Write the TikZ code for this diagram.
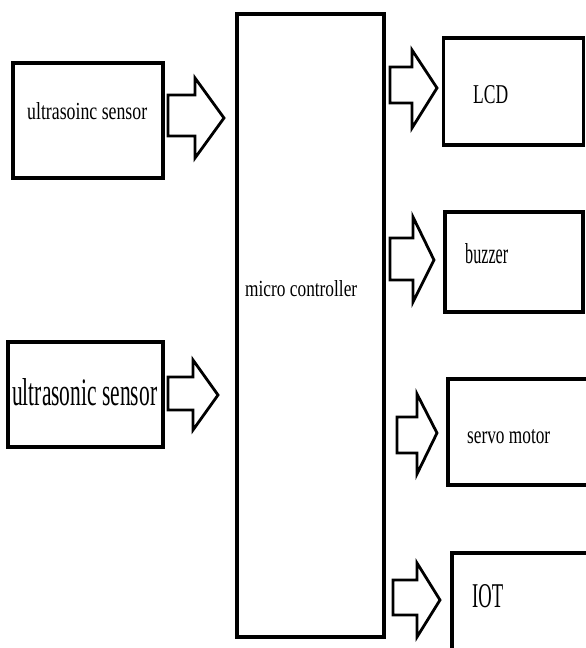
\documentclass[tikz,border=0pt]{standalone}
\usepackage{graphicx}
\usepackage{fontspec}
\setmainfont{Liberation Serif}
\tikzset{
  blk/.style={draw=black, line width=3.6pt, fill=white, inner sep=0pt},
  lbl/.style={anchor=base west, inner sep=0pt, text=black},
  barrow/.style={draw=black, line width=2.8pt, line join=miter, fill=white}
}
% \barr{x0}{xh}{xt}{yc}{shaft top}{shaft bottom}{head top}{head bottom}
\newcommand{\barr}[8]{%
  \draw[barrow] (#1,#5) -- (#2,#5) -- (#2,#7) -- (#3,#4) -- (#2,#8) -- (#2,#6) -- (#1,#6) -- cycle;}
\begin{document}
\begin{tikzpicture}[x=1pt,y=-1pt]
\useasboundingbox (0,0) rectangle (586,648);
\fill[white] (0,0) rectangle (586,648);
% boxes
\node[blk, minimum width=150pt, minimum height=115pt] (us1) at (88,120.5) {};
\node[blk, minimum width=155pt, minimum height=105pt] (us2) at (85.5,394.5) {};
\node[blk, minimum width=147pt, minimum height=623pt] (mc) at (310.5,325.5) {};
\node[blk, minimum width=140pt, minimum height=107pt] (lcd) at (513.5,91.5) {};
\node[blk, minimum width=138pt, minimum height=100pt] (buz) at (514,262) {};
\node[blk, minimum width=146pt, minimum height=106pt] (servo) at (521,432) {};
\node[blk, minimum width=142pt, minimum height=100pt] (iot) at (523,603) {};
% labels
\node[lbl] (t1) at (27,119) {\resizebox{120pt}{17pt}{ultrasoinc sensor}};
\node[lbl] (t2) at (12,405) {\resizebox{145pt}{27pt}{ultrasonic sensor}};
\node[lbl] (t3) at (245,296) {\resizebox{112pt}{16pt}{micro controller}};
\node[lbl] (t4) at (473,103) {\resizebox{35pt}{18pt}{LCD}};
\node[lbl] (t5) at (465,263) {\resizebox{43pt}{20pt}{buzzer}};
\node[lbl] (t6) at (467,443) {\resizebox{83pt}{14pt}{servo motor}};
\node[lbl] (t7) at (472,607) {\resizebox{31pt}{23pt}{IOT}};
% block arrows
\barr{168}{195}{224}{118}{95}{136}{78}{158}
\barr{168}{193}{218}{395}{377}{410}{360}{430}
\barr{390}{412}{437}{88}{67}{103}{50}{128}
\barr{390}{413}{434}{260}{238}{280}{217}{302}
\barr{397}{417}{437}{433}{417}{453}{394}{474}
\barr{393}{417}{440}{600}{580}{615}{563}{637}
\end{tikzpicture}
\end{document}
